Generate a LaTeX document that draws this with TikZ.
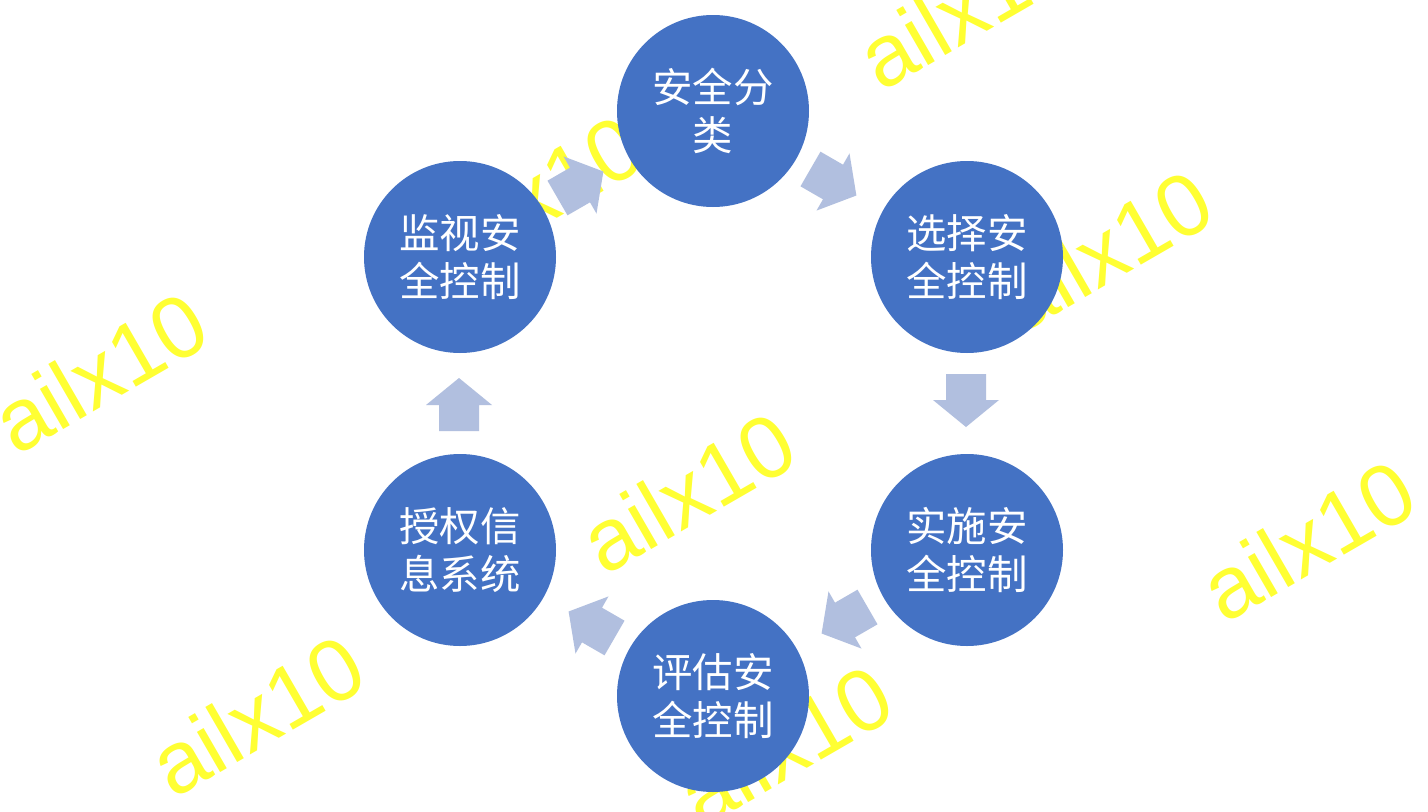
\documentclass[tikz,border=0pt]{standalone}
\usepackage{fontspec}
\setmainfont{Liberation Sans}
\newfontfamily\cjk{Noto Sans CJK SC}
\begin{document}
\begin{tikzpicture}[x=0.02cm,y=-0.02cm,
  circ/.style={circle,fill=cblue,minimum size=192*0.02cm,inner sep=0pt,text=white,align=center,font=\cjk\fontsize{23}{27}\selectfont},
  wm/.style={text=wyellow,rotate=30,font=\fontsize{50}{50}\selectfont},
  barrow/.style={fill=ablue}]
\definecolor{cblue}{HTML}{4472C4}
\definecolor{ablue}{HTML}{B1BFDF}
\definecolor{wyellow}{HTML}{FFFF33}
\fill[white] (0,0) rectangle (1428,812);
\clip (0,0) rectangle (1428,812);
\useasboundingbox (0,0) rectangle (1428,812);
% watermarks
\node[wm] (w1) at (100,372) {ailx10};
\node[wm] (w2) at (965,8) {ailx10};
\node[wm] (w3) at (535,195) {ailx10};
\node[wm] (w4) at (1105,250) {ailx10};
\node[wm] (w5) at (1308,540) {ailx10};
\node[wm] (w6) at (688,492) {ailx10};
\node[wm] (w7) at (257,715) {ailx10};
\node[wm] (w8) at (785,745) {ailx10};
% circles
\node[circ] (c1) at (713,111) {安全分\\类};
\node[circ] (c2) at (967,257) {选择安\\全控制};
\node[circ] (c3) at (967,550) {实施安\\全控制};
\node[circ] (c4) at (713,696) {评估安\\全控制};
\node[circ] (c5) at (460,550) {授权信\\息系统};
\node[circ] (c6) at (460,257) {监视安\\全控制};
% block arrows
\foreach \px/\py/\ang in {833/182/-30, 966/400/-90, 845/620/-150, 592/625/150, 459/405/90, 580/185/30}{
  \begin{scope}[shift={(\px,\py)},rotate=\ang]
    \fill[barrow] (-26,-20) -- (0,-20) -- (0,-33) -- (27,0) -- (0,33) -- (0,20) -- (-26,20) -- cycle;
  \end{scope}
}
\end{tikzpicture}
\end{document}
